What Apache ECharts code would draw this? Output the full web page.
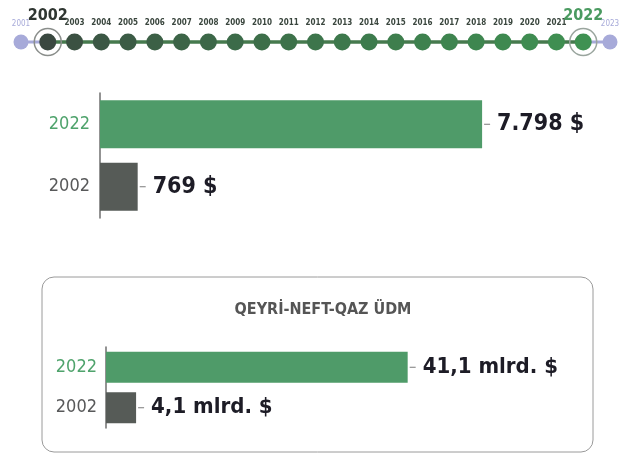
<!DOCTYPE html>
<html>
<head>
<meta charset="utf-8">
<script src="https://cdn.jsdelivr.net/npm/echarts@6/dist/echarts.min.js"></script>
<style>
    html, body { margin: 0; padding: 0; background: #ffffff; }
    #chart { width: 624px; height: 456px; }
</style>
</head>
<body>
<div id="chart"></div>
<script>
// zaman xətti (timeline)
const timelineYears = ['2001', '2002', '2003', '2004', '2005', '2006', '2007', '2008', '2009', '2010', '2011', '2012',
    '2013', '2014', '2015', '2016', '2017', '2018', '2019', '2020', '2021', '2022', '2023'];
const startYear = '2002';
const endYear = '2022';

// adambaşına ÜDM
const perCapitaYears = ['2022', '2002'];
const perCapitaValues = [7798, 769];

// qeyri-neft-qaz ÜDM, mlrd. $
const nonOilTitle = 'QEYRİ-NEFT-QAZ ÜDM';
const nonOilYears = ['2022', '2002'];
const nonOilValues = [41.1, 4.1];

const GREEN = '#4f9b69';
const DARK = '#565b57';
const LAVENDER = '#a7aad9';
const COND = '"DejaVu Sans Condensed", "Liberation Sans Narrow", sans-serif';

// rəngi tünd yaşıldan açıq yaşıla keçirmək
function mix(a, b, t) {
    const pa = [1, 3, 5].map(i => parseInt(a.substr(i, 2), 16));
    const pb = [1, 3, 5].map(i => parseInt(b.substr(i, 2), 16));
    return 'rgb(' + pa.map((v, i) => Math.round(v + (pb[i] - v) * t)).join(',') + ')';
}

const i0 = timelineYears.indexOf(startYear);
const i1 = timelineYears.indexOf(endYear);

const dots = timelineYears.map(function (y, i) {
    const outside = i < i0 || i > i1;
    const big = y === startYear || y === endYear;
    let color = outside ? LAVENDER : mix('#3a4840', '#3f9152', Math.pow((i - i0) / (i1 - i0), 0.7));
    let labelColor = outside ? LAVENDER : '#3a463e';
    if (y === endYear) labelColor = '#4a9a60';
    if (y === startYear) labelColor = '#2f3631';
    return {
        value: [y, 0],
        symbolSize: outside ? 15 : 17,
        itemStyle: { color: color, opacity: 1 },
        label: {
            show: true,
            position: 'top',
            distance: big ? 10 : 7,
            color: labelColor,
            fontFamily: COND,
            fontWeight: outside ? 'normal' : 'bold',
            fontSize: big ? 16 : 8,
            formatter: y
        }
    };
});

const rings = [startYear, endYear].map(y => ({
    value: [y, 0],
    itemStyle: { borderColor: y === startYear ? '#8a8e8b' : '#9aa59e' }
}));

function thousands(v) {
    return String(v).replace(/\B(?=(\d{3})+(?!\d))/g, '.');
}

function barLabel(fmt, size) {
    return {
        show: true,
        position: 'right',
        distance: 2,
        formatter: fmt,
        rich: {
            d: { width: 6, height: 1, backgroundColor: '#7a7a7a' },
            v: {
                fontFamily: COND,
                fontWeight: 'bold',
                fontSize: size,
                color: '#1d1c26',
                padding: [0, 0, 0, 7]
            }
        }
    };
}

function yearColor(value) {
    return value === '2022' ? '#4fa36c' : '#58595a';
}

const chart = echarts.init(document.getElementById('chart'));
chart.setOption({
    backgroundColor: '#ffffff',
    animation: false,
    graphic: [
        {
            type: 'rect',
            shape: { x: 42, y: 277, width: 551, height: 175, r: 12 },
            style: { fill: '#ffffff', stroke: '#9a9a9a', lineWidth: 1 },
            z: -10
        },
        {
            type: 'text',
            x: 323,
            y: 310,
            style: {
                text: nonOilTitle,
                align: 'center',
                verticalAlign: 'middle',
                font: 'bold 16px ' + COND,
                fill: '#555555'
            }
        }
    ],
    grid: [
        { left: 21, right: 14, top: 30, height: 24 },
        { left: 100, width: 490, top: 93, height: 125 },
        { left: 106, width: 367, top: 347, height: 81 }
    ],
    xAxis: [
        { gridIndex: 0, type: 'category', data: timelineYears, boundaryGap: false, show: false },
        { gridIndex: 1, type: 'value', min: 0, max: 10000, show: false },
        { gridIndex: 2, type: 'value', min: 0, max: 50, show: false }
    ],
    yAxis: [
        { gridIndex: 0, type: 'value', min: -1, max: 1, show: false },
        {
            gridIndex: 1,
            type: 'category',
            data: perCapitaYears,
            inverse: true,
            axisTick: { show: false },
            axisLine: { lineStyle: { color: '#6f6f6f', width: 1.5 } },
            axisLabel: { color: yearColor, fontFamily: COND, fontSize: 18, margin: 10 }
        },
        {
            gridIndex: 2,
            type: 'category',
            data: nonOilYears,
            inverse: true,
            axisTick: { show: false },
            axisLine: { lineStyle: { color: '#6f6f6f', width: 1.5 } },
            axisLabel: { color: yearColor, fontFamily: COND, fontSize: 18, margin: 9 }
        }
    ],
    series: [
        {
            type: 'line', xAxisIndex: 0, yAxisIndex: 0, symbol: 'none', z: 1,
            lineStyle: { color: LAVENDER, width: 3 },
            data: timelineYears.slice(0, i0 + 1).map(y => [y, 0])
        },
        {
            type: 'line', xAxisIndex: 0, yAxisIndex: 0, symbol: 'none', z: 1,
            lineStyle: { color: LAVENDER, width: 3 },
            data: timelineYears.slice(i1).map(y => [y, 0])
        },
        {
            type: 'line', xAxisIndex: 0, yAxisIndex: 0, symbol: 'none', z: 2,
            lineStyle: { color: '#467a4e', width: 3.5 },
            data: timelineYears.slice(i0, i1 + 1).map(y => [y, 0])
        },
        {
            type: 'scatter', xAxisIndex: 0, yAxisIndex: 0, z: 3,
            data: dots
        },
        {
            type: 'scatter', xAxisIndex: 0, yAxisIndex: 0, z: 3,
            symbolSize: 27,
            itemStyle: { color: 'rgba(0,0,0,0)', borderWidth: 1.5, opacity: 1 },
            data: rings
        },
        {
            type: 'bar', xAxisIndex: 1, yAxisIndex: 1,
            barWidth: 48,
            data: perCapitaValues.map((v, i) => ({
                value: v,
                itemStyle: { color: perCapitaYears[i] === '2022' ? GREEN : DARK }
            })),
            label: barLabel(p => '{d| }{v|' + thousands(p.value) + ' $}', 23)
        },
        {
            type: 'bar', xAxisIndex: 2, yAxisIndex: 2,
            barWidth: 31,
            data: nonOilValues.map((v, i) => ({
                value: v,
                itemStyle: { color: nonOilYears[i] === '2022' ? GREEN : DARK }
            })),
            label: barLabel(p => '{d| }{v|' + p.value.toFixed(1).replace('.', ',') + ' mlrd. $}', 22)
        }
    ]
});
</script>
</body>
</html>
